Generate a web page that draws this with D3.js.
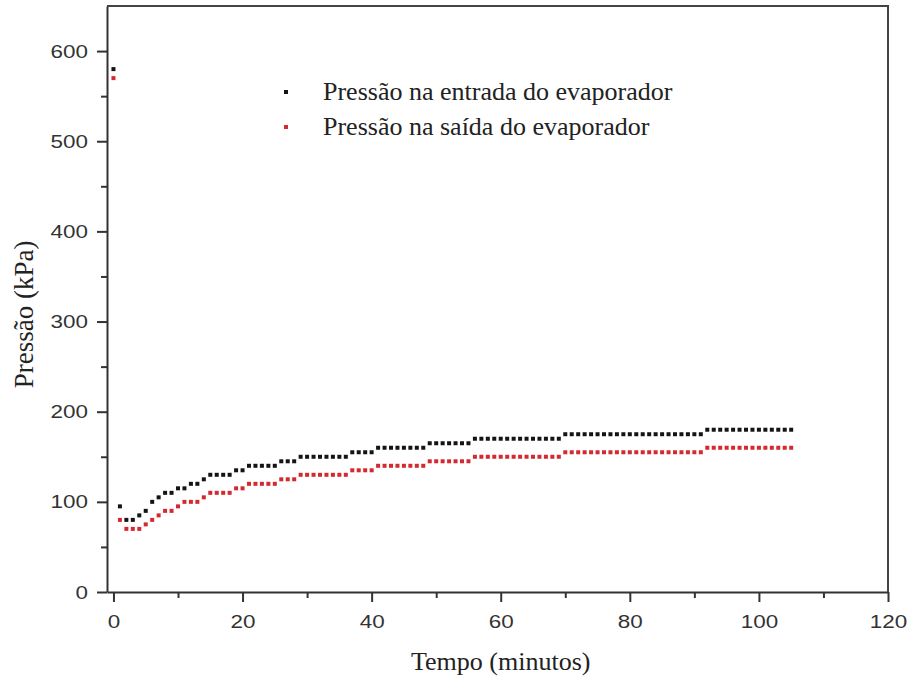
<!DOCTYPE html>
<html>
<head>
<meta charset="utf-8">
<script src="https://cdn.jsdelivr.net/npm/d3@7"></script>
<style>
  body { margin: 0; background: #fff; }
  .tick text { font-family: "Liberation Sans", Arial, sans-serif; fill: #333; }
  .lbl { font-family: "Liberation Serif", "Times New Roman", serif; fill: #222; }
</style>
</head>
<body>
<div id="chart"></div>
<script>
// minutes 0..105, one reading per minute
var tempo = d3.range(0, 106);

// Pressão na entrada do evaporador (kPa)
var entrada = [580, 95, 80, 80, 85, 90, 100, 105, 110, 110,
  115, 115, 120, 120, 125, 130, 130, 130, 130, 135,
  135, 140, 140, 140, 140, 140, 145, 145, 145, 150,
  150, 150, 150, 150, 150, 150, 150, 155, 155, 155,
  155, 160, 160, 160, 160, 160, 160, 160, 160, 165,
  165, 165, 165, 165, 165, 165, 170, 170, 170, 170,
  170, 170, 170, 170, 170, 170, 170, 170, 170, 170,
  175, 175, 175, 175, 175, 175, 175, 175, 175, 175,
  175, 175, 175, 175, 175, 175, 175, 175, 175, 175,
  175, 175, 180, 180, 180, 180, 180, 180, 180, 180,
  180, 180, 180, 180, 180, 180];

// Pressão na saída do evaporador (kPa)
var saida = [570, 80, 70, 70, 70, 75, 80, 85, 90, 90,
  95, 100, 100, 100, 105, 110, 110, 110, 110, 115,
  115, 120, 120, 120, 120, 120, 125, 125, 125, 130,
  130, 130, 130, 130, 130, 130, 130, 135, 135, 135,
  135, 140, 140, 140, 140, 140, 140, 140, 140, 145,
  145, 145, 145, 145, 145, 145, 150, 150, 150, 150,
  150, 150, 150, 150, 150, 150, 150, 150, 150, 150,
  155, 155, 155, 155, 155, 155, 155, 155, 155, 155,
  155, 155, 155, 155, 155, 155, 155, 155, 155, 155,
  155, 155, 160, 160, 160, 160, 160, 160, 160, 160,
  160, 160, 160, 160, 160, 160];

var xTicks = [0, 20, 40, 60, 80, 100, 120];
var xMinor = [10, 30, 50, 70, 90, 110];
var yTicks = [0, 100, 200, 300, 400, 500, 600];
var yMinor = [50, 150, 250, 350, 450, 550];

var series = [
  {name: "Pressão na entrada do evaporador", values: entrada, color: "#141414"},
  {name: "Pressão na saída do evaporador", values: saida, color: "#d42a2f"}
];

var svgWidth = 909, svgHeight = 679;
var margin = {top: 6, right: 21, bottom: 87, left: 107};
var width = svgWidth - margin.left - margin.right;
var height = svgHeight - margin.top - margin.bottom;

var svg = d3.select("#chart").append("svg")
  .attr("width", svgWidth)
  .attr("height", svgHeight);

var g = svg.append("g")
  .attr("transform", `translate(${margin.left},${margin.top})`);

var x = d3.scaleLinear().domain([-1, 120]).range([0, width]);
var y = d3.scaleLinear().domain([0, 650]).range([height, 0]);

// minor ticks first, majors drawn on top
g.append("g")
  .attr("transform", `translate(0,${height})`)
  .call(d3.axisBottom(x).tickValues(xMinor).tickSize(6).tickFormat(""))
  .call(a => a.select(".domain").remove());
g.append("g")
  .call(d3.axisLeft(y).tickValues(yMinor).tickSize(6).tickFormat(""))
  .call(a => a.select(".domain").remove());

var xAxis = g.append("g")
  .attr("transform", `translate(0,${height})`)
  .call(d3.axisBottom(x).tickValues(xTicks).tickSize(10).tickPadding(13).tickSizeOuter(0));

var yAxis = g.append("g")
  .call(d3.axisLeft(y).tickValues(yTicks).tickSize(10).tickPadding(9).tickSizeOuter(0));

// tick labels in the original look a bit wide, stretch them
svg.selectAll(".tick text")
  .style("font-size", "19px")
  .each(function() {
    var w = this.getComputedTextLength();
    if (w > 0) {
      d3.select(this).attr("textLength", w * 1.18).attr("lengthAdjust", "spacingAndGlyphs");
    }
  });

svg.selectAll(".tick line").attr("stroke", "#333").attr("stroke-width", 2);
svg.selectAll(".domain").attr("stroke", "#333").attr("stroke-width", 2);

// frame top and right
g.append("path")
  .attr("d", `M0,0H${width}V${height}`)
  .attr("fill", "none")
  .attr("stroke", "#444")
  .attr("stroke-width", 2);

// points
series.forEach(s => {
  g.append("g").selectAll("rect")
    .data(s.values)
    .join("rect")
    .attr("x", (d, i) => x(tempo[i]) - 2)
    .attr("y", d => y(d) - 2)
    .attr("width", 4)
    .attr("height", 4)
    .attr("fill", s.color);
});

// legend
var legend = svg.append("g").attr("transform", "translate(286,92)");
series.forEach((s, i) => {
  legend.append("rect")
    .attr("x", -2).attr("y", i * 35 - 2)
    .attr("width", 4).attr("height", 4)
    .attr("fill", s.color);
  legend.append("text")
    .attr("class", "lbl")
    .attr("x", 37).attr("y", i * 35 + 8)
    .style("font-size", "26px")
    .text(s.name);
});

// axis titles
svg.append("text")
  .attr("class", "lbl")
  .attr("x", margin.left + x(60)).attr("y", 670)
  .attr("text-anchor", "middle")
  .style("font-size", "26px")
  .text("Tempo (minutos)");

svg.append("text")
  .attr("class", "lbl")
  .attr("transform", `translate(33,${margin.top + y(308)}) rotate(-90)`)
  .attr("text-anchor", "middle")
  .style("font-size", "27px")
  .text("Pressão (kPa)");
</script>
</body>
</html>
